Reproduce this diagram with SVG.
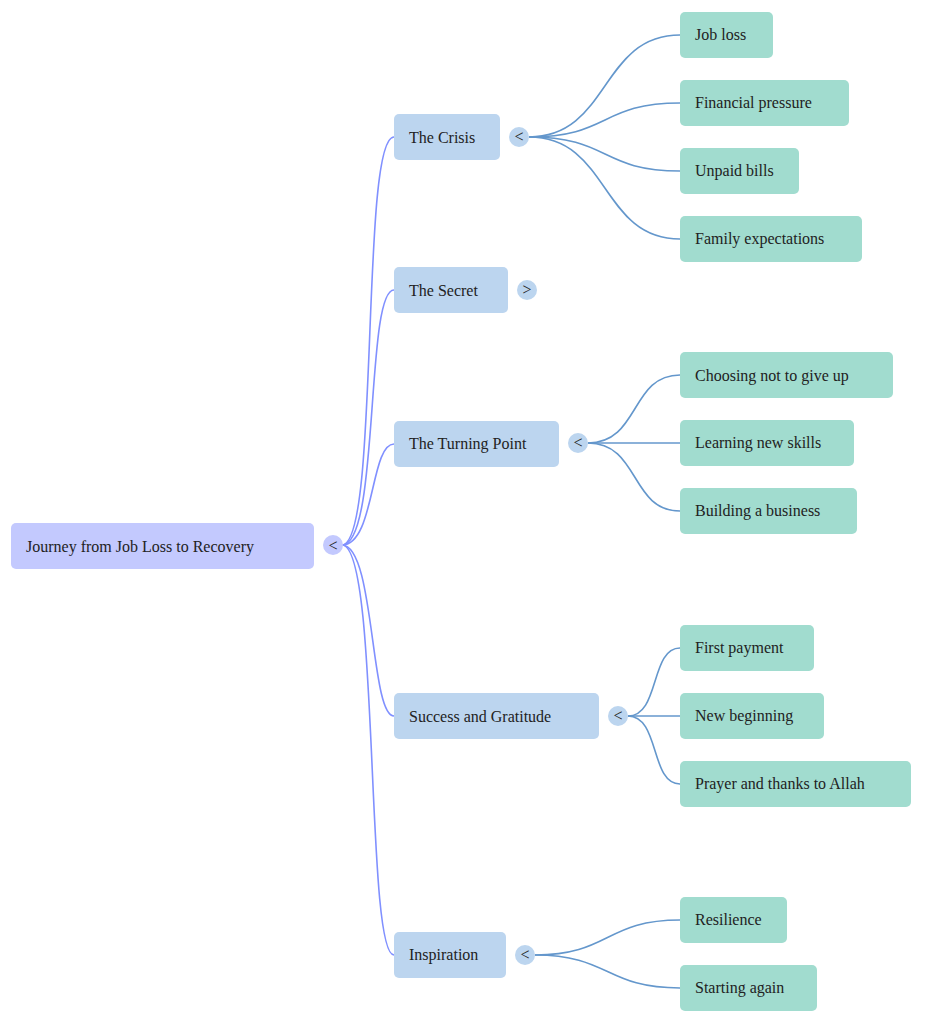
<svg xmlns="http://www.w3.org/2000/svg" width="951" height="1024" viewBox="0 0 951 1024">
<style>
text{font-family:"Liberation Serif","Times New Roman",serif;font-size:16px;fill:#222;dominant-baseline:central}
.root{fill:#c3c9fe}.br{fill:#bcd5ef}.lf{fill:#a1dccf}
.c1{fill:none;stroke:#8090ff;stroke-width:1.6}.c2{fill:none;stroke:#6497cc;stroke-width:1.6}
.tg{fill:#bcd5ef}.tgr{fill:#c3c9fe}
</style>
<rect width="951" height="1024" fill="#fff"/>
<g id="connectors">
<path class="c1" d="M342 545C380 545 360 137 394 137"/>
<path class="c1" d="M342 545C380 545 365 290 394 290"/>
<path class="c1" d="M342 545C375 545 370 444 394 444"/>
<path class="c1" d="M342 545C375 545 370 716 394 716"/>
<path class="c1" d="M342 545C380 545 365 955 394 955"/>
<path class="c2" d="M529 137C610 137 600 35 680 35"/>
<path class="c2" d="M529 137C610 137 600 103 680 103"/>
<path class="c2" d="M529 137C610 137 600 171 680 171"/>
<path class="c2" d="M529 137C610 137 600 239 680 239"/>
<path class="c2" d="M588 443C640 443 630 375 680 375"/>
<path class="c2" d="M588 443L680 443"/>
<path class="c2" d="M588 443C640 443 630 511 680 511"/>
<path class="c2" d="M628 716C660 716 650 648 680 648"/>
<path class="c2" d="M628 716L680 716"/>
<path class="c2" d="M628 716C660 716 650 784 680 784"/>
<path class="c2" d="M535 955C610 955 605 920 680 920"/>
<path class="c2" d="M535 955C610 955 605 988 680 988"/>
</g>
<g id="root"><rect class="root" x="11" y="523" width="303" height="46" rx="5"/><text x="26" y="546">Journey from Job Loss to Recovery</text><circle class="tgr" cx="333" cy="545" r="10"/><text x="333" y="545" text-anchor="middle">&lt;</text></g>
<g id="crisis"><rect class="br" x="394" y="114" width="106" height="46" rx="5"/><text x="409" y="137">The Crisis</text><circle class="tg" cx="519" cy="137" r="10"/><text x="519" y="136" text-anchor="middle">&lt;</text></g>
<g id="secret"><rect class="br" x="394" y="267" width="114" height="46" rx="5"/><text x="409" y="290">The Secret</text><circle class="tg" cx="527" cy="290" r="10"/><text x="527" y="289" text-anchor="middle">&gt;</text></g>
<g id="turning"><rect class="br" x="394" y="421" width="165" height="46" rx="5"/><text x="409" y="443">The Turning Point</text><circle class="tg" cx="578" cy="443" r="10"/><text x="578" y="442" text-anchor="middle">&lt;</text></g>
<g id="success"><rect class="br" x="394" y="693" width="205" height="46" rx="5"/><text x="409" y="716">Success and Gratitude</text><circle class="tg" cx="618" cy="716" r="10"/><text x="618" y="715" text-anchor="middle">&lt;</text></g>
<g id="inspiration"><rect class="br" x="394" y="932" width="112" height="46" rx="5"/><text x="409" y="954">Inspiration</text><circle class="tg" cx="525" cy="955" r="10"/><text x="525" y="954" text-anchor="middle">&lt;</text></g>
<g id="l1"><rect class="lf" x="680" y="12" width="93" height="46" rx="5"/><text x="695" y="34">Job loss</text></g>
<g id="l2"><rect class="lf" x="680" y="80" width="169" height="46" rx="5"/><text x="695" y="102">Financial pressure</text></g>
<g id="l3"><rect class="lf" x="680" y="148" width="119" height="46" rx="5"/><text x="695" y="170">Unpaid bills</text></g>
<g id="l4"><rect class="lf" x="680" y="216" width="182" height="46" rx="5"/><text x="695" y="238">Family expectations</text></g>
<g id="l5"><rect class="lf" x="680" y="352" width="213" height="46" rx="5"/><text x="695" y="375">Choosing not to give up</text></g>
<g id="l6"><rect class="lf" x="680" y="420" width="174" height="46" rx="5"/><text x="695" y="442">Learning new skills</text></g>
<g id="l7"><rect class="lf" x="680" y="488" width="177" height="46" rx="5"/><text x="695" y="510">Building a business</text></g>
<g id="l8"><rect class="lf" x="680" y="625" width="134" height="46" rx="5"/><text x="695" y="647">First payment</text></g>
<g id="l9"><rect class="lf" x="680" y="693" width="144" height="46" rx="5"/><text x="695" y="715">New beginning</text></g>
<g id="l10"><rect class="lf" x="680" y="761" width="231" height="46" rx="5"/><text x="695" y="783">Prayer and thanks to Allah</text></g>
<g id="l11"><rect class="lf" x="680" y="897" width="107" height="46" rx="5"/><text x="695" y="919">Resilience</text></g>
<g id="l12"><rect class="lf" x="680" y="965" width="137" height="46" rx="5"/><text x="695" y="987">Starting again</text></g>
</svg>
